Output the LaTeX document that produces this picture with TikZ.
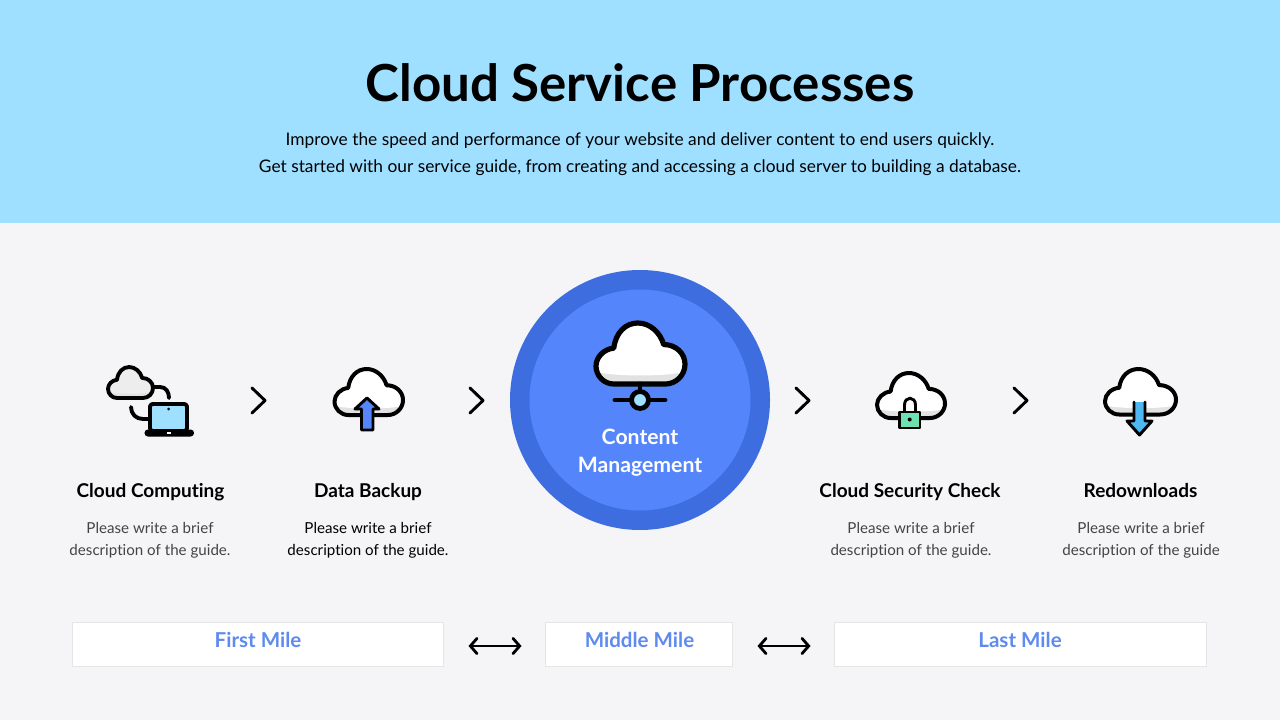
\documentclass[tikz,border=0pt]{standalone}
\usepackage{fontspec}
\setmainfont[Ligatures=NoCommon]{Lato}
\usetikzlibrary{arrows.meta}
\definecolor{headbg}{HTML}{9FDFFF}
\definecolor{pagebg}{HTML}{F5F4F7}
\definecolor{ringc}{HTML}{3E6DE0}
\definecolor{discc}{HTML}{5585FA}
\definecolor{milec}{HTML}{5F8BEE}
\definecolor{descc}{HTML}{444444}
\definecolor{shadec}{HTML}{E2E2E2}
\definecolor{lockc}{HTML}{6FE0B0}
\definecolor{downc}{HTML}{4FB8F0}
\tikzset{
  x=0.75pt,y=-0.75pt,
  icon/.style={draw=black,line join=round,line cap=round},
  chev/.style={draw=black,line width=2.2pt,line cap=round,line join=round},
  itemtitle/.style={font=\fontsize{14.25}{18}\selectfont\bfseries,text=black,inner sep=0pt,anchor=base},
  itemdesc/.style={font=\fontsize{11.35}{15.8}\selectfont,text=descc,align=center,inner sep=0pt},
  milebox/.style={draw=black!10,line width=0.6pt,fill=white,minimum height=33.4pt,inner sep=0pt},
  miletext/.style={font=\fontsize{15.4}{18}\selectfont\bfseries,text=milec,inner sep=0pt},
  mutual/.style={draw=black,line width=2.1pt,{Straight Barb[length=5pt,width=11.5pt,line cap=round]}-{Straight Barb[length=5pt,width=11.5pt,line cap=round]}},
}
% cloud outline in a 100 x 68 box
\newcommand{\cloudpath}{(20,68) -- (78,68) .. controls (90,68) and (100,58) .. (100,46) .. controls (100,34) and (90,24) .. (76,24) .. controls (72,10) and (60,0) .. (47,0) .. controls (33,0) and (22,11) .. (20,28) .. controls (9,29) and (0,38) .. (0,48) .. controls (0,59) and (9,68) .. (20,68) -- cycle}
% #1 x, #2 y, #3 width, #4 height, #5 fill, #6 line width
\newcommand{\cloudicon}[6]{%
  \begin{scope}[shift={(#1,#2)},xscale=#3/100,yscale=#4/68]
    \fill[#5] \cloudpath;
    \begin{scope}
      \clip \cloudpath;
      \fill[shadec] (-2,54) rectangle (102,70);
      \fill[#5] (-2,54) .. controls (20,60) and (80,60) .. (102,54) -- (102,40) -- (-2,40) -- cycle;
    \end{scope}
    \draw[icon,line width=#6] \cloudpath;
  \end{scope}}
\begin{document}
\begin{tikzpicture}
\useasboundingbox (0,0) rectangle (1280,720);
\fill[pagebg] (0,0) rectangle (1280,720);
\fill[headbg] (0,0) rectangle (1280,223);

\node[font=\fontsize{38.3}{44}\selectfont\bfseries,text=black,inner sep=0pt] (title) at (640,83) {Cloud Service Processes};
\node[font=\fontsize{13}{20.3}\selectfont,text=black,align=center,inner sep=0pt] (subtitle) at (640,154.5)
  {Improve the speed and performance of your website and deliver content to end users quickly.\\
   Get started with our service guide, from creating and accessing a cloud server to building a database.};

% centre disc
\fill[ringc] (640,400) circle[radius=130];
\fill[discc] (640,400) circle[radius=110.5];

% icon 1: computing
\cloudicon{108}{367}{45}{31}{black!7}{2.9pt}
\draw[icon,line width=2.9pt] (153,387) -- (160,387) .. controls (166,387) and (169,392) .. (169,398);
\draw[icon,line width=2.9pt] (131,407) .. controls (131,414) and (136,419) .. (143,419) -- (150,419);
\draw[icon,fill=headbg,line width=2.9pt,rounded corners=2pt] (150,404) rectangle (187,431);
\fill[black,rounded corners=2.5pt] (144.5,429.5) rectangle (194,436.5);
\fill[white] (167,431.5) rectangle (171,434);
\fill[black] (168.5,409) circle[radius=1.5];

% icon 2: data backup
\cloudicon{334.5}{369}{68.5}{46}{white}{3pt}
\draw[icon,fill=discc,line width=2.2pt,miter limit=10] (367,398) -- (379,409) -- (373,409) -- (373,430) -- (361.5,430) -- (361.5,409) -- (355,409) -- cycle;

% icon 3: content management
\cloudicon{596}{323}{89}{61}{white}{3.9pt}
\draw[icon,line width=3.6pt] (640,384) -- (640,392);
\draw[icon,line width=3.6pt] (615,400) -- (665,400);
\draw[icon,fill=headbg,line width=3.6pt] (640,400) circle[radius=8.5];
\node[font=\fontsize{15.9}{21}\selectfont\bfseries,text=white,align=center,inner sep=0pt] (centerlabel) at (640,452.5) {Content\\Management};

% icon 4: security
\cloudicon{877}{373}{68}{45}{white}{3pt}
\draw[icon,fill=white,line width=2.2pt] (904.5,412) -- (904.5,405) .. controls (904.5,396) and (915.5,396) .. (915.5,405) -- (915.5,412);
\draw[icon,fill=lockc,line width=2.2pt] (899.5,412) rectangle (920,428);
\fill[black] (909.7,419.5) circle[radius=2];

% icon 5: redownloads
\cloudicon{1105}{369}{71}{45.5}{white}{3pt}
\fill[downc] (1134,402) -- (1145,402) -- (1145,421) -- (1152,421) -- (1139.5,435) -- (1127,421) -- (1134,421) -- cycle;
\draw[icon,line width=2.2pt,miter limit=10] (1134,402) -- (1134,421) -- (1127,421) -- (1139.5,435) -- (1152,421) -- (1145,421) -- (1145,402);

% chevrons
\draw[chev] (252,388) -- (265,400.5) -- (252,413);
\draw[chev] (470,388) -- (483,400.5) -- (470,413);
\draw[chev] (796,388) -- (809,400.5) -- (796,413);
\draw[chev] (1014,388) -- (1027,400.5) -- (1014,413);

% labels
\node[itemtitle] (t1) at (150.5,497.3) {Cloud Computing};
\node[itemtitle] (t2) at (368,497.3) {Data Backup};
\node[itemtitle] (t3) at (910,497.3) {Cloud Security Check};
\node[itemtitle] (t4) at (1140.5,497.3) {Redownloads};
\node[itemdesc] (d1) at (150,540.3) {Please write a brief\\description of the guide.};
\node[itemdesc,text=black] (d2) at (368,540.3) {Please write a brief\\description of the guide.};
\node[itemdesc] (d3) at (911,540.3) {Please write a brief\\description of the guide.};
\node[itemdesc] (d4) at (1141,540.3) {Please write a brief\\description of the guide};

% mile boxes
\node[milebox,minimum width=278.6pt] (first) at (258,644.5) {};
\node[milebox,minimum width=140.6pt] (middle) at (639,644.5) {};
\node[milebox,minimum width=279.4pt] (last) at (1020.5,644.5) {};
\node[miletext] (firstl) at (258,640) {First Mile};
\node[miletext] (middlel) at (639.5,640) {Middle Mile};
\node[miletext] (lastl) at (1020,640) {Last Mile};
\coordinate (a1) at (468.5,646);
\coordinate (a2) at (521.5,646);
\coordinate (a3) at (757.5,646);
\coordinate (a4) at (810.5,646);
\draw[mutual] (a1) -- (a2);
\draw[mutual] (a3) -- (a4);
\end{tikzpicture}
\end{document}
